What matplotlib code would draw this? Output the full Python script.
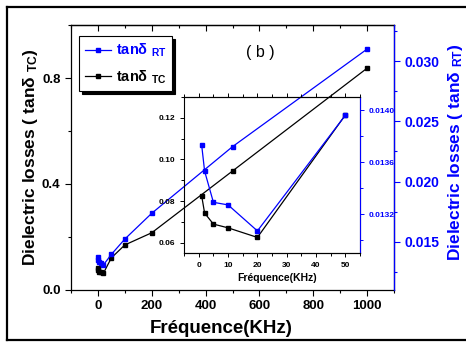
import numpy as np
import matplotlib
matplotlib.use("Agg")
import matplotlib.pyplot as plt
from matplotlib.lines import Line2D
from matplotlib.ticker import MultipleLocator

plt.rcParams['font.family'] = ['Liberation Sans', 'DejaVu Sans']
plt.rcParams['font.weight'] = 'bold'
plt.rcParams['mathtext.fontset'] = 'custom'
plt.rcParams['mathtext.rm'] = 'Liberation Sans:bold'
plt.rcParams['mathtext.bf'] = 'Liberation Sans:bold'
plt.rcParams['mathtext.default'] = 'bf'

# frequenties (KHz) en verliezen
freq = [1, 2, 5, 10, 20, 50, 100, 200, 500, 1000]
tan_tc = [0.0825, 0.0742, 0.0689, 0.0671, 0.0625, 0.1214, 0.170, 0.216, 0.449, 0.837]
tan_rt = [0.01373, 0.01353, 0.01329, 0.01327, 0.01307, 0.01396, 0.01523, 0.01737, 0.0229, 0.0310]

# inzet: alleen tot 50 KHz
n_inzet = 6

blauw = '#0000ff'

fig = plt.figure(figsize=(4.66, 3.44), dpi=100)

# hoofdfiguur
ax = fig.add_axes([0.1524, 0.157, 0.6931, 0.7703])
ax.plot(freq, tan_tc, color='black', marker='s', ms=3.5, lw=0.9)
ax.set_xlim(-100, 1100)
ax.set_ylim(0, 1.0)
ax.xaxis.set_major_locator(MultipleLocator(200))
ax.xaxis.set_minor_locator(MultipleLocator(100))
ax.yaxis.set_major_locator(MultipleLocator(0.4))
ax.yaxis.set_minor_locator(MultipleLocator(0.2))
ax.yaxis.set_major_formatter(matplotlib.ticker.FormatStrFormatter('%.1f'))
ax.tick_params(which='both', direction='out', labelsize=9.5, width=0.8)
ax.tick_params(which='major', length=4)
ax.tick_params(which='minor', length=2.5)
for s in ax.spines.values():
    s.set_linewidth(0.9)

# ticks bovenaan naar binnen
top = ax.secondary_xaxis('top')
top.xaxis.set_major_locator(MultipleLocator(200))
top.xaxis.set_minor_locator(MultipleLocator(100))
top.tick_params(which='both', direction='in', labeltop=False, width=0.8)
top.tick_params(which='major', length=4)
top.tick_params(which='minor', length=2.5)
top.spines['top'].set_linewidth(0.9)

ax.set_xlabel('Fréquence(KHz)', fontsize=13.5, fontweight='bold')
ax.xaxis.set_label_coords(0.464, -0.147)
ax.xaxis.label.set_va('center')
ax.set_ylabel('Dielectric losses ( tanδ $_{TC}$)', fontsize=12.5, fontweight='bold')
ax.yaxis.set_label_coords(-0.124, 0.5)
ax.yaxis.label.set_va('center')

ax2 = ax.twinx()
ax2.plot(freq, tan_rt, color=blauw, marker='s', ms=3.5, lw=0.9)
ax2.set_ylim(0.011, 0.033)
ax2.yaxis.set_major_locator(MultipleLocator(0.005))
ax2.yaxis.set_minor_locator(MultipleLocator(0.0025))
ax2.yaxis.set_major_formatter(matplotlib.ticker.FormatStrFormatter('%.3f'))
ax2.tick_params(which='both', direction='out', colors=blauw, labelsize=10, width=0.8)
ax2.tick_params(which='major', length=4)
ax2.tick_params(which='minor', length=2.5)
ax2.spines['right'].set_color(blauw)
ax2.spines['right'].set_linewidth(0.9)
ax2.spines['left'].set_visible(False)
ax2.spines['top'].set_visible(False)
ax2.spines['bottom'].set_visible(False)
ax2.set_ylabel('Dielectric losses ( tanδ $_{RT}$)', fontsize=12.5, fontweight='bold', color=blauw)
ax2.yaxis.set_label_coords(1.189, 0.52)
ax2.yaxis.label.set_va('center')

ax2.text(0.585, 0.898, '( b )', transform=ax2.transAxes, fontsize=11.5,
         fontweight='normal', ha='center', va='center')

handles = [Line2D([], [], color=blauw, marker='s', ms=3.5, lw=0.9),
           Line2D([], [], color='black', marker='s', ms=3.5, lw=0.9)]
leg = ax2.legend(handles, ['tanδ $_{RT}$', 'tanδ $_{TC}$'], loc='upper left',
                 bbox_to_anchor=(0.025, 0.958), borderaxespad=0, fancybox=False,
                 edgecolor='black', framealpha=1, fontsize=10.5, handlelength=1.8,
                 handletextpad=0.3, borderpad=0.4, labelspacing=0.6,
                 shadow={'color': 'black', 'alpha': 1})
leg.get_frame().set_linewidth(0.8)
leg.get_texts()[0].set_color(blauw)

# inzet
ins = fig.add_axes([0.395, 0.2645, 0.3777, 0.4535])
ins.patch.set_alpha(0)
ins.plot(freq[:n_inzet], tan_tc[:n_inzet], color='black', marker='s', ms=2.3, lw=0.9)
ins.set_xlim(-5, 55)
ins.set_ylim(0.055, 0.13)
ins.xaxis.set_major_locator(MultipleLocator(10))
ins.xaxis.set_minor_locator(MultipleLocator(5))
ins.yaxis.set_major_locator(MultipleLocator(0.02))
ins.yaxis.set_minor_locator(MultipleLocator(0.01))
ins.yaxis.set_major_formatter(matplotlib.ticker.FormatStrFormatter('%.2f'))
ins.tick_params(which='both', direction='out', labelsize=6, width=0.7, top=True)
ins.tick_params(which='major', length=3)
ins.tick_params(which='minor', length=2)
ins.set_xlabel('Fréquence(KHz)', fontsize=7.5, fontweight='bold')
ins.xaxis.set_label_coords(0.528, -0.16)
ins.xaxis.label.set_va('center')

ins2 = ins.twinx()
ins2.plot(freq[:n_inzet], tan_rt[:n_inzet], color=blauw, marker='s', ms=2.3, lw=0.9)
ins2.set_ylim(0.0129, 0.0141)
ins2.yaxis.set_major_locator(MultipleLocator(0.0004))
ins2.yaxis.set_minor_locator(MultipleLocator(0.0002))
ins2.yaxis.set_major_formatter(matplotlib.ticker.FormatStrFormatter('%.4f'))
ins2.tick_params(which='both', direction='out', colors=blauw, labelsize=6, width=0.7)
ins2.tick_params(which='major', length=3)
ins2.tick_params(which='minor', length=2)
ins2.spines['right'].set_color(blauw)
ins2.spines['left'].set_visible(False)

# kader rond de figuur (rechterkant valt buiten beeld)
x0, y0, y1 = 7 / 466, 4 / 344, 337 / 344
for xs, ys in [([x0, x0], [y0, y1]), ([x0, 1.0], [y1, y1]), ([x0, 1.0], [y0, y0])]:
    fig.add_artist(Line2D(xs, ys, transform=fig.transFigure, color='black', lw=1.6))

fig.savefig('out.png', dpi=100)
